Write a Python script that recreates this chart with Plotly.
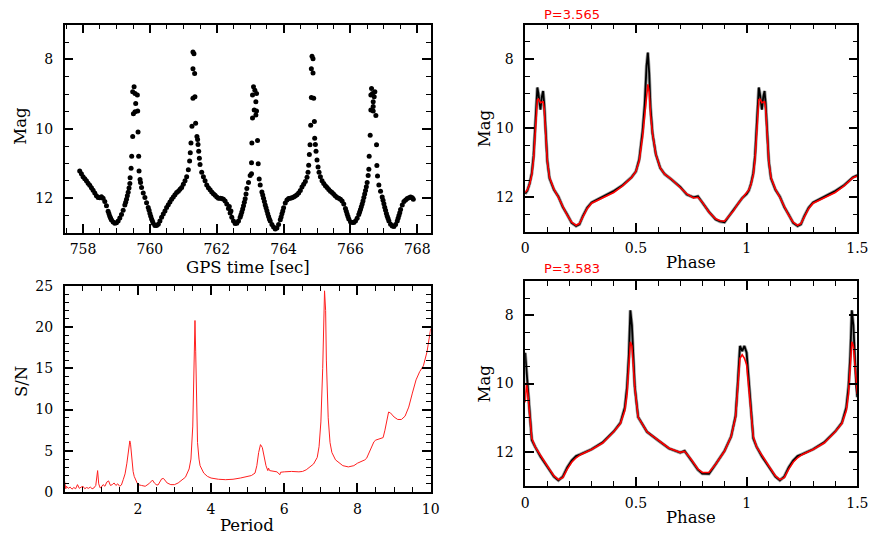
import plotly.graph_objects as go

W, H = 872, 537
K = 1.012  # compensation for slight shrink observed in rendering

# ---------------- Light curve (top-left) ----------------
lc_time = [
    757.90, 757.95, 758.00, 758.05, 758.10, 758.15, 758.20, 758.25, 758.30, 758.35,
    758.40, 758.45, 758.50, 758.55, 758.60, 758.65, 758.70, 758.75, 758.80, 758.85,
    758.90, 758.95, 759.00, 759.05, 759.10, 759.15, 759.20, 759.25, 759.30, 759.35,
    759.40,
    759.408, 759.437, 759.455, 759.485, 759.485, 759.506, 759.527, 759.556, 759.556,
    759.575, 759.625, 759.635, 759.645, 759.664, 759.675, 759.705,
    759.72, 759.75, 759.80, 759.85, 759.90, 759.95, 760.00, 760.05, 760.10, 760.15,
    760.20, 760.25, 760.30, 760.35, 760.40, 760.45, 760.50, 760.55, 760.60, 760.65,
    760.70, 760.75, 760.80, 760.85, 760.90, 760.95, 761.00, 761.05, 761.10, 761.15,
    761.188, 761.208, 761.228, 761.258, 761.288, 761.288, 761.288, 761.318, 761.338,
    761.347, 761.368, 761.407, 761.427,
    761.44, 761.46, 761.48, 761.50, 761.55, 761.60, 761.65, 761.70, 761.75, 761.80,
    761.85, 761.90, 761.95, 762.00, 762.05, 762.10, 762.15, 762.20, 762.25, 762.30,
    762.35, 762.40, 762.45, 762.50, 762.55, 762.60, 762.65, 762.70, 762.75, 762.80,
    762.85, 762.90, 762.95, 763.00,
    763.04, 763.04, 763.05, 763.07, 763.07, 763.10, 763.12, 763.14, 763.17, 763.17,
    763.19, 763.19, 763.22, 763.24,
    763.27, 763.30, 763.35, 763.40, 763.45, 763.50, 763.55, 763.60, 763.65, 763.70,
    763.75, 763.80, 763.85, 763.90, 763.95, 764.00, 764.05, 764.10, 764.15, 764.20,
    764.25, 764.30, 764.35, 764.40, 764.45, 764.50, 764.55, 764.60, 764.65, 764.70,
    764.73, 764.75,
    764.77, 764.79, 764.81, 764.83, 764.83, 764.85, 764.88, 764.88, 764.90, 764.92,
    764.93,
    764.95, 764.97, 765.00, 765.03, 765.06, 765.10, 765.15, 765.20, 765.25, 765.30,
    765.35, 765.40, 765.45, 765.50, 765.55, 765.60, 765.65, 765.70, 765.75, 765.80,
    765.85, 765.90, 765.95, 766.00, 766.05, 766.10, 766.15, 766.20, 766.25, 766.30,
    766.35, 766.40, 766.45, 766.50, 766.53,
    766.55, 766.56, 766.59, 766.61, 766.61, 766.63, 766.66, 766.68, 766.68, 766.68,
    766.71, 766.73, 766.76, 766.78, 766.79, 766.81,
    766.85, 766.90, 766.95, 767.00, 767.05, 767.10, 767.15, 767.20, 767.25, 767.30,
    767.35, 767.40, 767.45, 767.50, 767.55, 767.60, 767.65, 767.70, 767.75, 767.80,
    767.85, 767.88,
    # extra samples on the steep flanks
    758.775, 758.825, 759.275, 759.325, 759.375, 759.975, 760.025, 760.075,
    762.375, 762.425, 762.725, 762.775, 762.825, 762.875, 763.375, 763.425,
    763.475, 763.525, 763.575, 763.925, 763.975, 765.875, 765.925, 766.275,
    766.325, 766.375, 766.425, 766.475, 766.975, 767.025, 767.075, 767.125,
    767.425, 767.475,
]
lc_mag = [
    11.22, 11.30, 11.38, 11.44, 11.50, 11.57, 11.63, 11.70, 11.77, 11.85,
    11.93, 11.98, 11.99, 11.96, 12.00, 12.10, 12.22, 12.38, 12.52, 12.63,
    12.69, 12.72, 12.71, 12.66, 12.57, 12.47, 12.35, 12.20, 12.03, 11.83,
    11.58,
    11.41, 11.14, 10.79, 10.22, 8.93, 9.57, 8.79, 8.98, 9.51,
    9.27, 9.03, 9.49, 10.09, 10.79, 11.22, 11.46,
    11.55, 11.69, 11.85, 11.98, 12.13, 12.27, 12.44, 12.60, 12.72, 12.79,
    12.79, 12.75, 12.66, 12.55, 12.46, 12.37, 12.27, 12.19, 12.11, 12.03,
    11.97, 11.90, 11.84, 11.80, 11.74, 11.69, 11.60, 11.50, 11.38, 11.18,
    10.93, 10.69, 10.41, 9.93, 9.12, 8.27, 7.79, 7.84, 8.41,
    9.08, 9.84, 10.22, 10.31,
    10.45, 10.65, 10.85, 11.03, 11.25, 11.38, 11.50, 11.62, 11.70, 11.76,
    11.82, 11.87, 11.92, 11.97, 12.00, 12.00, 12.01, 12.03, 12.08, 12.17,
    12.30, 12.43, 12.55, 12.66, 12.73, 12.72, 12.66, 12.55, 12.40, 12.22,
    12.02, 11.72, 11.55, 11.35,
    11.30, 10.98, 10.41, 9.69, 9.03, 8.79, 9.46, 8.89, 9.22, 9.60,
    8.98, 9.49, 10.34, 11.01,
    11.45, 11.62, 11.82, 12.00, 12.20, 12.36, 12.53, 12.66, 12.76, 12.83,
    12.89, 12.86, 12.76, 12.62, 12.45, 12.28, 12.14, 12.05, 12.01, 12.00,
    11.99, 11.97, 11.94, 11.90, 11.85, 11.78, 11.68, 11.60, 11.52, 11.40,
    11.25, 11.05,
    10.74, 10.46, 9.90, 9.10, 8.27, 7.91, 7.98, 8.39, 9.12, 9.79,
    10.27,
    10.45, 10.65, 10.90, 11.10, 11.25, 11.38, 11.50, 11.58, 11.64, 11.69,
    11.75, 11.80, 11.84, 11.89, 11.94, 11.98, 12.00, 12.03, 12.08, 12.17,
    12.30, 12.46, 12.60, 12.68, 12.70, 12.70, 12.66, 12.58, 12.47, 12.33,
    12.17, 11.98, 11.78, 11.55, 11.35,
    11.17, 10.79, 10.19, 9.46, 9.03, 8.84, 8.98, 9.22, 9.36, 9.49,
    9.08, 8.93, 9.62, 10.46, 11.06, 11.36,
    11.62, 11.80, 11.97, 12.16, 12.35, 12.52, 12.66, 12.75, 12.80, 12.82,
    12.76, 12.66, 12.50, 12.33, 12.20, 12.10, 12.05, 12.01, 11.99, 11.97,
    11.99, 12.03,
    12.45, 12.58, 12.12, 11.93, 11.71, 12.35, 12.52, 12.66,
    12.24, 12.37, 12.48, 12.31, 12.12, 11.88, 11.91, 12.10,
    12.28, 12.45, 12.60, 12.54, 12.37, 12.38, 12.53, 12.40,
    12.25, 12.08, 11.88, 11.67, 12.06, 12.26, 12.44, 12.59,
    12.58, 12.42,
]

# ---------------- Periodogram (bottom-left) ----------------
per_period = [
    0.00, 0.03, 0.05, 0.10, 0.15, 0.20, 0.25, 0.30, 0.35, 0.40, 0.45, 0.50, 0.55,
    0.60, 0.65, 0.70, 0.75, 0.80, 0.85, 0.90, 0.93, 0.97, 1.00, 1.05, 1.10, 1.15,
    1.20, 1.25, 1.30, 1.35, 1.40, 1.45, 1.50, 1.55, 1.60, 1.65, 1.70, 1.75, 1.78,
    1.80, 1.83, 1.87, 1.90, 1.95, 2.00, 2.10, 2.20, 2.30, 2.35, 2.40, 2.45, 2.50,
    2.55, 2.60, 2.65, 2.70, 2.75, 2.80, 2.90, 3.00, 3.10, 3.20, 3.30, 3.40, 3.45,
    3.50, 3.53, 3.56, 3.58, 3.60, 3.63, 3.67, 3.70, 3.80, 3.90, 4.00, 4.20, 4.40,
    4.60, 4.80, 5.00, 5.10, 5.20, 5.25, 5.30, 5.35, 5.40, 5.45, 5.50, 5.55, 5.57,
    5.60, 5.70, 5.80, 5.88, 5.90, 6.00, 6.20, 6.40, 6.50, 6.60, 6.70, 6.80, 6.90,
    6.95, 7.00, 7.05, 7.10, 7.13, 7.15, 7.20, 7.25, 7.30, 7.40, 7.50, 7.60, 7.75,
    7.90, 8.00, 8.10, 8.20, 8.25, 8.30, 8.40, 8.45, 8.50, 8.60, 8.70, 8.75, 8.80,
    8.85, 8.90, 9.00, 9.10, 9.20, 9.30, 9.40, 9.50, 9.60, 9.70, 9.80, 9.90, 10.00,
]
per_sn = [
    1.30, 0.40, 0.70, 0.45, 0.60, 0.35, 0.55, 0.40, 0.90, 0.45, 0.60, 0.70, 0.40,
    0.55, 0.45, 0.60, 0.40, 0.50, 0.80, 2.60, 1.00, 0.50, 0.60, 0.90, 0.70, 1.20,
    1.35, 0.80, 0.90, 1.10, 0.80, 1.00, 0.70, 0.85, 1.50, 2.20, 3.50, 5.50, 6.20,
    5.80, 4.00, 2.50, 1.90, 1.30, 0.90, 0.80, 0.70, 1.00, 1.30, 1.45, 1.10, 0.90,
    0.85, 1.30, 1.60, 1.65, 1.40, 1.10, 0.90, 0.90, 1.10, 1.40, 1.80, 2.80, 4.00,
    8.00, 14.0, 20.8, 17.0, 10.0, 6.00, 4.00, 3.20, 2.30, 1.90, 1.70, 1.55, 1.50,
    1.55, 1.70, 1.90, 2.00, 2.30, 3.20, 4.80, 5.75, 5.40, 4.30, 3.20, 2.60, 2.90,
    2.60, 2.50, 2.45, 2.10, 2.40, 2.45, 2.50, 2.45, 2.50, 2.70, 3.00, 3.40, 4.20,
    5.50, 8.50, 15.0, 24.4, 22.0, 16.0, 9.00, 6.00, 4.80, 3.90, 3.50, 3.20, 3.05,
    3.20, 3.50, 3.70, 3.90, 4.10, 4.60, 5.60, 6.10, 6.30, 6.50, 6.60, 7.50, 8.80,
    9.70, 9.60, 9.10, 8.80, 8.80, 9.20, 10.3, 12.0, 13.6, 14.6, 15.3, 17.0, 19.8,
]

# ---------------- Phased curve P=3.565 (top-right) ----------------
ph1_phase = [
    0.000, 0.010, 0.020, 0.030, 0.038, 0.045, 0.050, 0.055, 0.060, 0.065, 0.069,
    0.075, 0.081, 0.086, 0.090, 0.095, 0.100, 0.110, 0.120, 0.130, 0.150, 0.170,
    0.190, 0.210, 0.230, 0.245, 0.260, 0.280, 0.300, 0.330, 0.360, 0.400, 0.440,
    0.480, 0.500, 0.515, 0.530, 0.540, 0.548, 0.554, 0.560, 0.566, 0.575, 0.590,
    0.610, 0.630, 0.660, 0.700, 0.730, 0.760, 0.780, 0.800, 0.830, 0.860, 0.880,
    0.900, 0.920, 0.940, 0.960, 0.980, 1.000, 1.010, 1.020, 1.030, 1.038, 1.045,
    1.050, 1.055, 1.060, 1.065, 1.069, 1.075, 1.081, 1.086, 1.090, 1.095, 1.100,
    1.110, 1.120, 1.130, 1.150, 1.170, 1.190, 1.210, 1.230, 1.245, 1.260, 1.280,
    1.300, 1.330, 1.360, 1.400, 1.440, 1.480, 1.500,
]
ph1_red = [
    11.86, 11.78, 11.62, 11.35, 10.90, 10.20, 9.60, 9.18, 9.15, 9.22, 9.26,
    9.25, 9.22, 9.45, 9.90, 10.50, 10.95, 11.43, 11.62, 11.76, 12.00, 12.25,
    12.52, 12.72, 12.81, 12.76, 12.58, 12.33, 12.17, 12.08, 12.00, 11.86, 11.67,
    11.43, 11.25, 10.95, 10.25, 9.60, 8.90, 8.73, 8.95, 9.60, 10.15, 10.75,
    11.15, 11.33, 11.47, 11.71, 11.90, 12.02, 12.00, 12.14, 12.43, 12.62, 12.68,
    12.69, 12.55, 12.40, 12.19, 12.02, 11.86, 11.78, 11.62, 11.35, 10.90, 10.20,
    9.60, 9.18, 9.15, 9.22, 9.26, 9.25, 9.22, 9.45, 9.90, 10.50, 10.95,
    11.43, 11.62, 11.76, 12.00, 12.25, 12.52, 12.72, 12.81, 12.76, 12.58, 12.33,
    12.17, 12.08, 12.00, 11.86, 11.67, 11.43, 11.38,
]
ph1_black = [
    11.90, 11.80, 11.60, 11.30, 10.80, 10.00, 9.30, 8.82, 9.00, 9.30, 9.46,
    9.10, 8.92, 9.30, 9.90, 10.50, 10.95, 11.45, 11.60, 11.78, 11.98, 12.28,
    12.50, 12.74, 12.83, 12.78, 12.55, 12.30, 12.15, 12.05, 11.95, 11.82, 11.65,
    11.42, 11.25, 10.90, 10.10, 9.30, 8.20, 7.81, 8.40, 9.40, 10.15, 10.75,
    11.15, 11.33, 11.48, 11.70, 11.92, 12.00, 11.97, 12.16, 12.42, 12.64, 12.70,
    12.72, 12.55, 12.35, 12.18, 12.02, 11.90, 11.80, 11.60, 11.30, 10.80, 10.00,
    9.30, 8.82, 9.00, 9.30, 9.46, 9.10, 8.92, 9.30, 9.90, 10.50, 10.95,
    11.45, 11.60, 11.78, 11.98, 12.28, 12.50, 12.74, 12.83, 12.78, 12.55, 12.30,
    12.15, 12.05, 11.95, 11.82, 11.65, 11.42, 11.36,
]

# ---------------- Phased curve P=3.583 (bottom-right) ----------------
ph2_phase = [
    0.000, 0.006, 0.012, 0.020, 0.030, 0.045, 0.070, 0.100, 0.130, 0.150, 0.170,
    0.190, 0.210, 0.230, 0.250, 0.300, 0.350, 0.400, 0.430, 0.450, 0.460, 0.468,
    0.475, 0.482, 0.488, 0.495, 0.510, 0.550, 0.600, 0.650, 0.700, 0.720, 0.750,
    0.780, 0.800, 0.830, 0.860, 0.900, 0.930, 0.950, 0.960, 0.970, 0.980, 0.990,
    1.000, 1.010, 1.020, 1.030, 1.045, 1.070, 1.100, 1.130, 1.150, 1.170, 1.190,
    1.210, 1.230, 1.250, 1.300, 1.350, 1.400, 1.430, 1.450, 1.460, 1.468, 1.475,
    1.482, 1.488, 1.495, 1.500,
]
ph2_red = [
    10.55, 9.98, 10.30, 11.00, 11.60, 11.85, 12.12, 12.41, 12.70, 12.81, 12.75,
    12.50, 12.30, 12.17, 12.08, 11.93, 11.74, 11.41, 11.17, 10.79, 10.30, 9.60,
    8.78, 8.90, 9.40, 10.12, 10.98, 11.41, 11.65, 11.89, 12.01, 11.98, 12.22,
    12.50, 12.60, 12.60, 12.36, 11.98, 11.55, 10.98, 10.12, 9.26, 9.16, 9.26,
    9.45, 10.12, 10.88, 11.55, 11.85, 12.12, 12.41, 12.70, 12.81, 12.75, 12.50,
    12.30, 12.17, 12.08, 11.93, 11.74, 11.41, 11.17, 10.79, 10.30, 9.60, 8.78,
    8.90, 9.40, 10.12, 10.30,
]
ph2_black = [
    9.10, 9.60, 10.30, 11.00, 11.65, 11.85, 12.14, 12.43, 12.72, 12.83, 12.72,
    12.45, 12.25, 12.12, 12.07, 11.92, 11.72, 11.40, 11.15, 10.70, 10.10, 9.20,
    7.86, 8.30, 9.20, 10.10, 10.98, 11.41, 11.66, 11.90, 12.02, 11.97, 12.24,
    12.52, 12.63, 12.64, 12.36, 11.97, 11.55, 10.95, 10.00, 8.90, 9.05, 8.90,
    9.10, 10.00, 10.90, 11.60, 11.85, 12.14, 12.43, 12.72, 12.83, 12.72, 12.45,
    12.25, 12.12, 12.07, 11.92, 11.72, 11.40, 11.15, 10.70, 10.10, 9.20, 7.86,
    8.30, 9.20, 10.10, 10.40,
]

# tick definitions
lc_xticks = [758, 760, 762, 764, 766, 768]
mag_ticks = [8, 10, 12]
per_xticks = [2, 4, 6, 8, 10]
sn_ticks = [0, 5, 10, 15, 20, 25]
phase_ticks = [0, 0.5, 1, 1.5]
phase_ticklabels = ["0", "0.5", "1", "1.5"]

FONT = "DejaVu Serif"
TICKFONT = dict(family=FONT, size=14, color="black")
TITLEFONT = dict(family=FONT, size=16.5, color="black")


def px_x(a, b):
    return [min(1, a * K / W), min(1, b * K / W)]


def px_y(top, bottom):
    return [max(0, 1 - bottom * K / H), max(0, 1 - top * K / H)]


def axis(domain, rng, tickvals, minor_dtick, ticktext=None, anchor=None, labelgap=3):
    return dict(
        domain=domain,
        range=rng,
        tickmode="array",
        tickvals=tickvals,
        ticktext=ticktext if ticktext is not None else [str(v) for v in tickvals],
        ticks="inside",
        ticklen=9,
        tickwidth=1.5,
        tickcolor="black",
        showline=True,
        linecolor="black",
        linewidth=1.5,
        mirror="ticks",
        showgrid=False,
        zeroline=False,
        tickfont=TICKFONT,
        ticklabelstandoff=labelgap,
        minor=dict(ticks="inside", ticklen=5, tickwidth=1.2, tickcolor="black",
                   dtick=minor_dtick, tick0=0, showgrid=False),
        anchor=anchor,
        fixedrange=True,
    )


def label(text, xp, yp, angle=0, font=None, xanchor="center"):
    return dict(text=text, x=xp * K / W, y=1 - yp * K / H, xref="paper", yref="paper",
                xanchor=xanchor, yanchor="middle", showarrow=False, textangle=angle,
                font=font or TITLEFONT)


fig = go.Figure()

fig.add_trace(go.Scatter(x=lc_time, y=lc_mag, mode="markers",
                         marker=dict(color="black", size=5),
                         xaxis="x", yaxis="y", showlegend=False))
fig.add_trace(go.Scatter(x=per_period, y=per_sn, mode="lines",
                         line=dict(color="#ff2020", width=1),
                         xaxis="x2", yaxis="y2", showlegend=False))
for ph, blk, red, xa, ya in [(ph1_phase, ph1_black, ph1_red, "x3", "y3"),
                             (ph2_phase, ph2_black, ph2_red, "x4", "y4")]:
    fig.add_trace(go.Scatter(x=ph, y=blk, mode="lines",
                             line=dict(color="#9a9a9a", width=3.4),
                             xaxis=xa, yaxis=ya, showlegend=False))
    fig.add_trace(go.Scatter(x=ph, y=blk, mode="lines",
                             line=dict(color="black", width=1.8),
                             xaxis=xa, yaxis=ya, showlegend=False))
    fig.add_trace(go.Scatter(x=ph, y=red, mode="lines",
                             line=dict(color="red", width=1.6),
                             xaxis=xa, yaxis=ya, showlegend=False))

PFONT = dict(family="DejaVu Sans", size=13, color="red")

fig.update_layout(
    width=W, height=H,
    margin=dict(l=0, r=0, t=0, b=0),
    paper_bgcolor="white", plot_bgcolor="white",
    xaxis=axis(px_x(61, 429), [757.45, 768.4], lc_xticks, 0.5, anchor="y", labelgap=3),
    yaxis=axis(px_y(17, 229), [13, 7], mag_ticks, 0.5, anchor="x", labelgap=7),
    xaxis2=axis(px_x(61, 429), [0, 10], per_xticks, 0.5, anchor="y2", labelgap=3),
    yaxis2=axis(px_y(283, 493), [0, 25], sn_ticks, 1, anchor="x2", labelgap=7),
    xaxis3=axis(px_x(524, 858), [0, 1.5], phase_ticks, 0.1,
                ticktext=phase_ticklabels, anchor="y3", labelgap=3),
    yaxis3=axis(px_y(17, 228), [13, 7], mag_ticks, 0.5, anchor="x3", labelgap=7),
    xaxis4=axis(px_x(524, 858), [0, 1.5], phase_ticks, 0.1,
                ticktext=phase_ticklabels, anchor="y4", labelgap=3),
    yaxis4=axis(px_y(278, 487), [13, 7], mag_ticks, 0.5, anchor="x4", labelgap=7),
    annotations=[
        label("GPS time [sec]", 245, 264),
        label("Mag", 17, 120, angle=-90),
        label("Period", 244, 527),
        label("S/N", 17, 380, angle=-90),
        label("Phase", 691, 259),
        label("Mag", 483, 122, angle=-90),
        label("Phase", 691, 519),
        label("Mag", 483, 382, angle=-90),
        label("P=3.565", 541, 7, font=PFONT, xanchor="left"),
        label("P=3.583", 541, 265, font=PFONT, xanchor="left"),
    ],
)

fig.write_html("out.html")
